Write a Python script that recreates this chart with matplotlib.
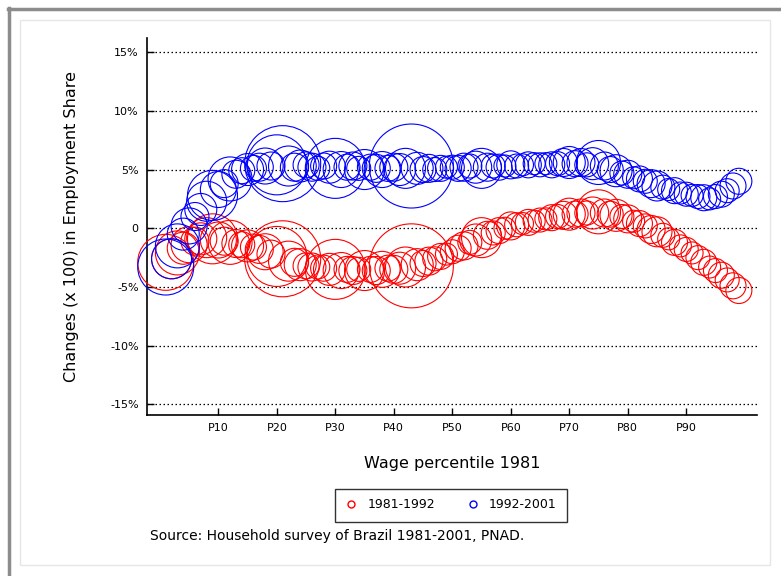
import numpy as np
import matplotlib
matplotlib.use("Agg")
import matplotlib.pyplot as plt
from matplotlib.lines import Line2D
from matplotlib.patches import Rectangle

plt.rcParams['font.family'] = ['DejaVu Sans']

# Wage percentiles of 1981
percentile = np.arange(1, 100)

# Change in employment share (x 100), 1981-1992
chg_1981_1992 = [
    -2.9, -2.6, -2.1, -1.7, -1.4, -1.1, -0.9, -0.8, -0.9, -1.0,
    -1.1, -1.2, -1.3, -1.4, -1.5, -1.6, -1.8, -2.0, -2.2, -2.4,
    -2.6, -2.8, -2.9, -3.1, -3.2, -3.3, -3.3, -3.4, -3.5, -3.5,
    -3.6, -3.5, -3.6, -3.5, -3.6, -3.5, -3.6, -3.5, -3.4, -3.5,
    -3.4, -3.3, -3.2, -3.1, -3.0, -2.8, -2.6, -2.4, -2.2, -2.0,
    -1.7, -1.5, -1.2, -1.0, -0.8, -0.6, -0.4, -0.2, 0.0, 0.2,
    0.3, 0.4, 0.5, 0.6, 0.7, 0.8, 0.9, 1.0, 1.1, 1.2,
    1.2, 1.3, 1.3, 1.3, 1.4, 1.3, 1.2, 1.1, 1.0, 0.8,
    0.6, 0.4, 0.2, -0.1, -0.3, -0.6, -0.9, -1.2, -1.5, -1.8,
    -2.1, -2.5, -2.9, -3.3, -3.6, -4.0, -4.4, -4.9, -5.3,
]

# Change in employment share (x 100), 1992-2001
chg_1992_2001 = [
    -3.3, -2.6, -1.5, -0.5, 0.2, 1.0, 1.6, 2.3, 2.8, 3.3,
    3.8, 4.2, 4.6, 4.9, 5.0, 5.1, 5.2, 5.3, 5.3, 5.4,
    5.5, 5.3, 5.2, 5.3, 5.4, 5.2, 5.1, 5.3, 5.2, 5.1,
    5.0, 5.2, 5.3, 5.1, 5.0, 5.2, 5.1, 5.0, 5.1, 5.2,
    5.0, 5.1, 5.3, 5.1, 5.0, 5.1, 5.0, 5.1, 5.2, 5.2,
    5.1, 5.2, 5.3, 5.2, 5.1, 5.2, 5.3, 5.2, 5.3, 5.4,
    5.3, 5.4, 5.4, 5.5, 5.4, 5.5, 5.4, 5.5, 5.6, 5.6,
    5.5, 5.6, 5.4, 5.5, 5.6, 5.3, 5.0, 4.9, 4.7, 4.6,
    4.3, 4.2, 4.0, 3.8, 3.6, 3.5, 3.3, 3.2, 3.0, 2.9,
    2.8, 2.7, 2.6, 2.5, 2.7, 2.9, 3.2, 3.6, 4.0,
]

# Relative bubble size (employment weight) of each percentile
bubble = [
    28, 20, 22, 16, 18, 14, 16, 20, 25, 18,
    14, 22, 14, 13, 16, 13, 14, 18, 14, 30,
    38, 20, 14, 16, 13, 14, 12, 13, 16, 30,
    18, 13, 14, 12, 20, 13, 14, 18, 13, 14,
    16, 20, 42, 16, 13, 14, 12, 13, 11, 12,
    13, 14, 12, 16, 20, 14, 12, 13, 11, 14,
    12, 11, 13, 11, 12, 11, 13, 12, 14, 16,
    13, 14, 12, 16, 22, 14, 13, 16, 12, 14,
    11, 13, 12, 14, 15, 12, 11, 13, 11, 12,
    11, 12, 13, 11, 12, 13, 12, 13, 13,
]

y_ticks = [15, 10, 5, 0, -5, -10, -15]
y_tick_labels = ['15%', '10%', '5%', '0', '-5%', '-10%', '-15%']
x_ticks = [10, 20, 30, 40, 50, 60, 70, 80, 90]
x_tick_labels = ['P10', 'P20', 'P30', 'P40', 'P50', 'P60', 'P70', 'P80', 'P90']

W, H, DPI = 781, 576, 100
fig = plt.figure(figsize=(W / DPI, H / DPI), dpi=DPI, facecolor='white')

# outer frame
fig.add_artist(Line2D([8 / W, 1.0], [1 - 9 / H, 1 - 9 / H], color='#8c8c8c', lw=2.5))
fig.add_artist(Line2D([9 / W, 9 / W], [0.0, 1 - 8 / H], color='#8c8c8c', lw=2.5))
fig.add_artist(Rectangle((20 / W, 11 / H), 750 / W, 545 / H, fill=False,
                         edgecolor='#e6e6e6', lw=1.0, transform=fig.transFigure))

ax = fig.add_axes([147 / W, 1 - 415 / H, 610 / W, 377 / H])
ax.set_facecolor('white')

size_pts = (2 * np.array(bubble) * 72 / DPI) ** 2

ax.scatter(percentile, chg_1981_1992, s=size_pts, facecolors='none',
           edgecolors='#ff0000', linewidths=0.8, clip_on=False, zorder=3)
ax.scatter(percentile, chg_1992_2001, s=size_pts, facecolors='none',
           edgecolors='#0000ff', linewidths=0.8, clip_on=False, zorder=4)

ax.set_xlim(-2.2, 102.1)
ax.set_ylim(-15.9, 16.2)

for v in y_ticks:
    ax.axhline(v, color='black', lw=0.9, ls=(0, (1.2, 2.0)), zorder=1)

ax.set_yticks(y_ticks)
ax.set_yticklabels(y_tick_labels)
ax.set_xticks(x_ticks)
ax.set_xticklabels(x_tick_labels)
ax.tick_params(axis='both', direction='in', length=5, width=1, labelsize=8,
               colors='black', pad=6)

for side in ['top', 'right']:
    ax.spines[side].set_visible(False)
for side in ['left', 'bottom']:
    ax.spines[side].set_linewidth(1.2)

ax.set_xlabel('Wage percentile 1981', fontsize=11.5, labelpad=16)
ax.set_ylabel('Changes (x 100) in Employment Share', fontsize=11.5, labelpad=22)

handles = [
    Line2D([], [], marker='o', ls='none', markerfacecolor='none',
           markeredgecolor='#ff0000', markersize=5, markeredgewidth=1.0, label='1981-1992'),
    Line2D([], [], marker='o', ls='none', markerfacecolor='none',
           markeredgecolor='#0000ff', markersize=5, markeredgewidth=1.0, label='1992-2001'),
]
leg = fig.legend(handles=handles, loc='center', bbox_to_anchor=(451 / W, 1 - 505 / H),
                 ncol=2, fontsize=9, frameon=True, fancybox=False, edgecolor='black',
                 handletextpad=0.8, columnspacing=2.5, borderpad=0.8, handlelength=1.0)
leg.get_frame().set_linewidth(1.0)

fig.text(150 / W, 1 - 536 / H,
         'Source: Household survey of Brazil 1981-2001, PNAD.',
         fontsize=10, ha='left', va='center')

fig.savefig('out.png', dpi=DPI, facecolor='white')
